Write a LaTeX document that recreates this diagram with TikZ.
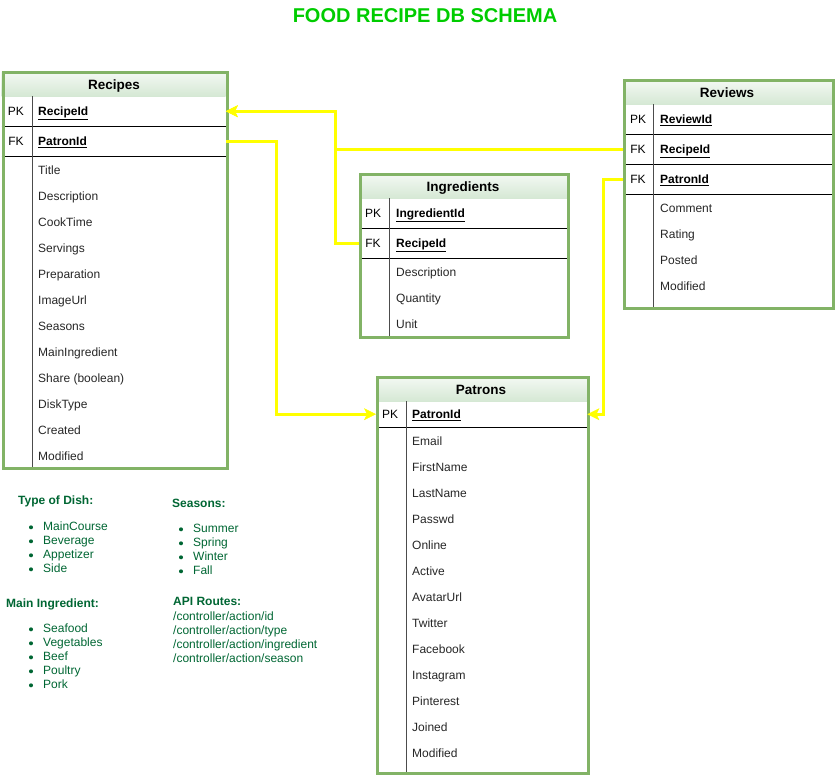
\documentclass[tikz,border=0pt]{standalone}
\usepackage{fontspec}
\setmainfont{Liberation Sans}
\usepackage{tikz}
\usepackage{xcolor}
\usetikzlibrary{arrows.meta}

\definecolor{tgreen}{HTML}{82B366}
\definecolor{hdr}{HTML}{D5E8D4}
\definecolor{titlegreen}{HTML}{00CC00}
\definecolor{notegreen}{HTML}{006633}
\definecolor{fkyellow}{HTML}{FFFF00}

\begin{document}
\begin{tikzpicture}[x=1pt, y=-1pt]
    % Define table shapes
    \tikzstyle{table}=[draw=tgreen, line width=3pt, rectangle, inner sep=0, anchor=north west]
    \tikzstyle{header}=[rectangle, top color=hdr!25!white, bottom color=hdr, minimum height=25, inner sep=0, anchor=north west]
    \tikzstyle{htitle}=[inner sep=0, text height=9.7pt, text depth=0pt, font=\fontsize{13.5}{16}\selectfont\bfseries]
    \tikzstyle{keyrow}=[rectangle, inner sep=0, minimum height=30, anchor=north west]
    \tikzstyle{tag}=[inner sep=0, text height=8.6pt, text depth=0pt, font=\fontsize{12}{14}\selectfont]
    \tikzstyle{key}=[inner sep=0, anchor=west, text height=8.6pt, text depth=0pt, font=\fontsize{12}{14}\selectfont\bfseries]
    \tikzstyle{field}=[inner sep=0, anchor=west, text height=8.6pt, text depth=0pt, text=black!85, font=\fontsize{12}{14}\selectfont]
    \tikzstyle{sep}=[line width=0.8pt]
    \tikzstyle{divider}=[line width=1pt, black!70]
    \tikzstyle{fk}=[draw=fkyellow, line width=3pt, -{Stealth[length=12pt, width=12pt, inset=3pt, line width=0.5pt]}]
    \tikzstyle{notehead}=[inner sep=0, anchor=west, text height=8.6pt, text depth=0pt, text=notegreen, font=\fontsize{12}{14}\selectfont\bfseries]
    \tikzstyle{noteitem}=[inner sep=0, anchor=west, text height=8.6pt, text depth=0pt, text=notegreen, font=\fontsize{12}{14}\selectfont]

    \useasboundingbox (0,0) rectangle (835,777);

    % Place title
    \node[text=titlegreen, font=\fontsize{20}{23}\selectfont\bfseries] (title) at (425,16) {FOOD RECIPE DB SCHEMA};

    % Place Recipes table
    \node[header, minimum width=224] (rec-head) at (1.5,71) {};
    \node[htitle] (rec-title) at (114,85) {Recipes};
    \node[keyrow, minimum width=224] (rec-pk) at (1.5,96) {};
    \node[keyrow, minimum width=224] (rec-fk) at (1.5,126) {};
    \node[tag] (rec-pk-tag) at (16,111) {PK};
    \node[key] (rec-pk-name) at (38,111) {\underline{RecipeId}};
    \node[tag] (rec-fk-tag) at (16,141) {FK};
    \node[key] (rec-fk-name) at (38,141) {\underline{PatronId}};
    \draw[sep] (rec-pk.south west) -- (rec-pk.south east);
    \draw[sep] (rec-fk.south west) -- (rec-fk.south east);
    \foreach \f [count=\i] in {Title, Description, CookTime, Servings, Preparation, ImageUrl, Seasons, MainIngredient, Share (boolean), DiskType, Created, Modified}
        \node[field] (rec-f\i) at (38,{170+26*(\i-1)}) {\f};
    \draw[divider] (32,96) -- (32,467);
    \node[table, minimum width=224, minimum height=396] (rec) at (1.5,71) {};

    % Place Reviews table
    \node[header, minimum width=209] (rev-head) at (623,79) {};
    \node[htitle] (rev-title) at (727,93) {Reviews};
    \node[keyrow, minimum width=209] (rev-pk) at (623,104) {};
    \node[keyrow, minimum width=209] (rev-fk1) at (623,134) {};
    \node[keyrow, minimum width=209] (rev-fk2) at (623,164) {};
    \node[tag] (rev-pk-tag) at (638,119) {PK};
    \node[key] (rev-pk-name) at (660,119) {\underline{ReviewId}};
    \node[tag] (rev-fk1-tag) at (638,149) {FK};
    \node[key] (rev-fk1-name) at (660,149) {\underline{RecipeId}};
    \node[tag] (rev-fk2-tag) at (638,179) {FK};
    \node[key] (rev-fk2-name) at (660,179) {\underline{PatronId}};
    \draw[sep] (rev-pk.south west) -- (rev-pk.south east);
    \draw[sep] (rev-fk1.south west) -- (rev-fk1.south east);
    \draw[sep] (rev-fk2.south west) -- (rev-fk2.south east);
    \foreach \f [count=\i] in {Comment, Rating, Posted, Modified}
        \node[field] (rev-f\i) at (660,{208+26*(\i-1)}) {\f};
    \draw[divider] (653,104) -- (653,307);
    \node[table, minimum width=209, minimum height=228] (rev) at (623,79) {};

    % Place Ingredients table
    \node[header, minimum width=208] (ing-head) at (359,173) {};
    \node[htitle] (ing-title) at (463,187) {Ingredients};
    \node[keyrow, minimum width=208] (ing-pk) at (359,198) {};
    \node[keyrow, minimum width=208] (ing-fk) at (359,228) {};
    \node[tag] (ing-pk-tag) at (373,213) {PK};
    \node[key] (ing-pk-name) at (396,213) {\underline{IngredientId}};
    \node[tag] (ing-fk-tag) at (373,243) {FK};
    \node[key] (ing-fk-name) at (396,243) {\underline{RecipeId}};
    \draw[sep] (ing-pk.south west) -- (ing-pk.south east);
    \draw[sep] (ing-fk.south west) -- (ing-fk.south east);
    \foreach \f [count=\i] in {Description, Quantity, Unit}
        \node[field] (ing-f\i) at (396,{272+26*(\i-1)}) {\f};
    \draw[divider] (389,198) -- (389,336);
    \node[table, minimum width=208, minimum height=163] (ing) at (359,173) {};

    % Place Patrons table
    \node[header, minimum width=211] (pat-head) at (376,376) {};
    \node[htitle] (pat-title) at (481,390) {Patrons};
    \node[keyrow, minimum width=211, minimum height=26] (pat-pk) at (376,401) {};
    \node[tag] (pat-pk-tag) at (390,414) {PK};
    \node[key] (pat-pk-name) at (412,414) {\underline{PatronId}};
    \draw[sep] (pat-pk.south west) -- (pat-pk.south east);
    \foreach \f [count=\i] in {Email, FirstName, LastName, Passwd, Online, Active, AvatarUrl, Twitter, Facebook, Instagram, Pinterest, Joined, Modified}
        \node[field] (pat-f\i) at (412,{441+26*(\i-1)}) {\f};
    \draw[divider] (406,401) -- (406,772);
    \node[table, minimum width=211, minimum height=396] (pat) at (376,376) {};

    % Connect foreign keys
    \coordinate (rec-bus) at (335,0);
    \coordinate (pat-bus-l) at (276,0);
    \coordinate (pat-bus-r) at (603,0);
    \draw[fk] (ing-fk.west) -- (ing-fk.west -| rec-bus) |- (rec-pk.east);
    \draw[fk] (rev-fk1.west) -- (rev-fk1.west -| rec-bus) |- (rec-pk.east);
    \draw[fk] (rec-fk.east) -- (rec-fk.east -| pat-bus-l) |- (pat-pk.west);
    \draw[fk] (rev-fk2.west) -- (rev-fk2.west -| pat-bus-r) |- (pat-pk.east);

    % Notes
    \node[notehead] (dish-head) at (18,500) {Type of Dish:};
    \foreach \f [count=\i] in {MainCourse, Beverage, Appetizer, Side} {
        \node[noteitem] (dish-\i) at (43,{526+14*(\i-1)}) {\f};
        \fill[notegreen] ([xshift=-12pt, yshift=3pt]dish-\i.base west) circle (2pt);
    }
    \node[notehead] (season-head) at (172,503) {Seasons:};
    \foreach \f [count=\i] in {Summer, Spring, Winter, Fall} {
        \node[noteitem] (season-\i) at (193,{528+14*(\i-1)}) {\f};
        \fill[notegreen] ([xshift=-12pt, yshift=3pt]season-\i.base west) circle (2pt);
    }
    \node[notehead] (main-head) at (6,603) {Main Ingredient:};
    \foreach \f [count=\i] in {Seafood, Vegetables, Beef, Poultry, Pork} {
        \node[noteitem] (main-\i) at (43,{628+14*(\i-1)}) {\f};
        \fill[notegreen] ([xshift=-12pt, yshift=3pt]main-\i.base west) circle (2pt);
    }
    \node[notehead] (api-head) at (173,601) {API Routes:};
    \foreach \f [count=\i] in {/controller/action/id, /controller/action/type, /controller/action/ingredient, /controller/action/season}
        \node[noteitem] (api-\i) at (173,{616+14*(\i-1)}) {\f};
\end{tikzpicture}
\end{document}
